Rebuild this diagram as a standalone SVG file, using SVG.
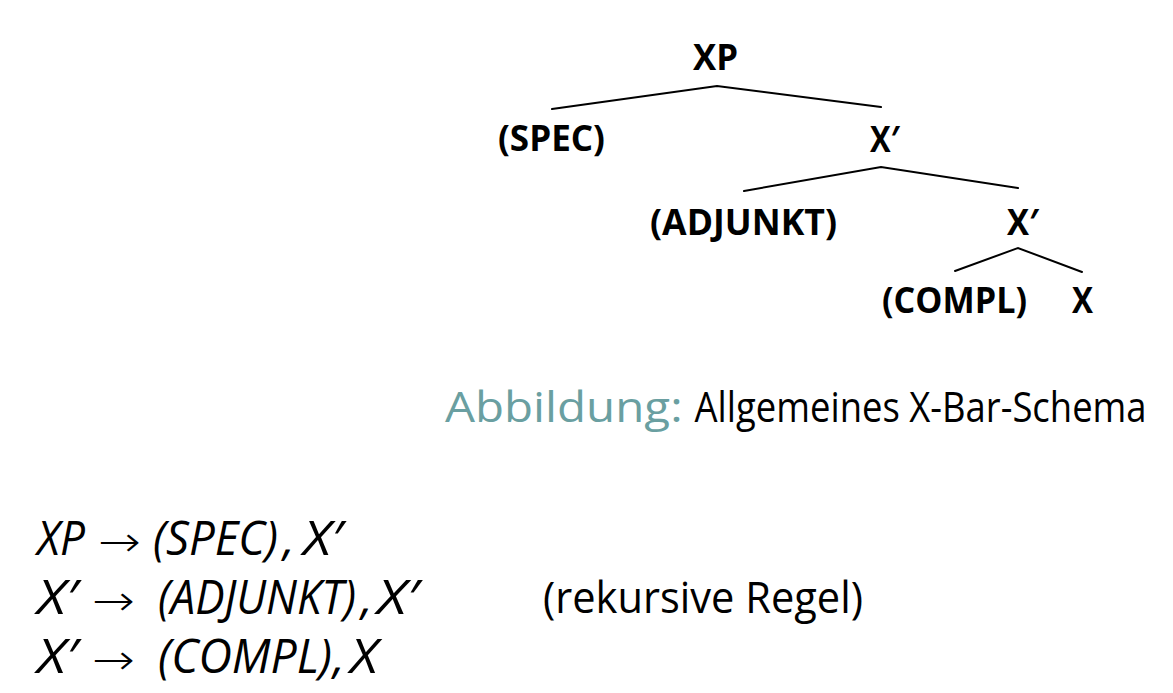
<svg xmlns="http://www.w3.org/2000/svg" width="1173" height="693" viewBox="0 0 1173 693">
<style>
.node{font-family:"Open Sans","DejaVu Sans",sans-serif;font-weight:bold;font-size:35px;fill:#000}
.edge{stroke:#000;stroke-width:2;fill:none;stroke-linecap:round}
.cap{font-family:"Open Sans","DejaVu Sans",sans-serif;font-size:42px}
.rule{font-family:"Open Sans","DejaVu Sans",sans-serif;font-style:italic;font-size:47px;fill:#000}
.arr{font-family:"DejaVu Sans",sans-serif;font-weight:200;font-size:42px;fill:#000}
.note{font-family:"Open Sans","DejaVu Sans",sans-serif;font-size:44px;fill:#000}
</style>
<rect width="1173" height="693" fill="#fff"/>
<g id="connectors">
<path class="edge" d="M552 109 L717 86 L881 107"/>
<path class="edge" d="M744 191 L881 167 L1018 188"/>
<path class="edge" d="M955 271 L1018 248 L1082 272"/>
</g>
<g id="node-XP"><text class="node" x="693" y="70" textLength="45" lengthAdjust="spacingAndGlyphs">XP</text></g>
<g id="node-SPEC"><text class="node" x="498" y="151" textLength="107" lengthAdjust="spacingAndGlyphs">(SPEC)</text></g>
<g id="node-Xbar1"><text class="node" x="870" y="152" textLength="30" lengthAdjust="spacingAndGlyphs">X′</text></g>
<g id="node-ADJUNKT"><text class="node" x="650" y="235" textLength="187" lengthAdjust="spacingAndGlyphs">(ADJUNKT)</text></g>
<g id="node-Xbar2"><text class="node" x="1007" y="235" textLength="32" lengthAdjust="spacingAndGlyphs">X′</text></g>
<g id="node-COMPL"><text class="node" x="882" y="313" textLength="145" lengthAdjust="spacingAndGlyphs">(COMPL)</text></g>
<g id="node-X"><text class="node" x="1072" y="313" textLength="21" lengthAdjust="spacingAndGlyphs">X</text></g>
<g id="caption">
<g transform="translate(445 422) scale(0.8 1)">
<text class="cap" x="0" y="0" fill="#6a9fa1" textLength="297" lengthAdjust="spacingAndGlyphs">Abbildung:</text>
<text class="cap" x="312" y="0" fill="#000" textLength="565" lengthAdjust="spacingAndGlyphs">Allgemeines X-Bar-Schema</text>
</g>
</g>
<g id="rules">
<text class="rule" x="37" y="555" textLength="48" lengthAdjust="spacingAndGlyphs">XP</text>
<text class="arr" x="98" y="556" textLength="43" lengthAdjust="spacingAndGlyphs">→</text>
<text class="rule" x="153" y="555" textLength="125" lengthAdjust="spacingAndGlyphs">(SPEC)</text>
<text class="rule" x="283" y="555">,</text>
<text class="rule" x="303" y="555" textLength="40" lengthAdjust="spacingAndGlyphs">X′</text>

<text class="rule" x="37" y="614" textLength="41" lengthAdjust="spacingAndGlyphs">X′</text>
<text class="arr" x="92" y="615" textLength="43" lengthAdjust="spacingAndGlyphs">→</text>
<g transform="translate(158 614) scale(0.85 1)">
<text class="rule" x="0" y="0" textLength="233" lengthAdjust="spacingAndGlyphs">(ADJUNKT)</text>
</g>
<text class="rule" x="361" y="614">,</text>
<text class="rule" x="377" y="614" textLength="42" lengthAdjust="spacingAndGlyphs">X′</text>
<text class="note" x="543" y="613" textLength="320" lengthAdjust="spacingAndGlyphs">(rekursive Regel)</text>

<text class="rule" x="37" y="673" textLength="41" lengthAdjust="spacingAndGlyphs">X′</text>
<text class="arr" x="92" y="674" textLength="43" lengthAdjust="spacingAndGlyphs">→</text>
<text class="rule" x="158" y="673" textLength="174" lengthAdjust="spacingAndGlyphs">(COMPL)</text>
<text class="rule" x="333" y="673">,</text>
<text class="rule" x="350" y="673" textLength="28" lengthAdjust="spacingAndGlyphs">X</text>
</g>
</svg>
